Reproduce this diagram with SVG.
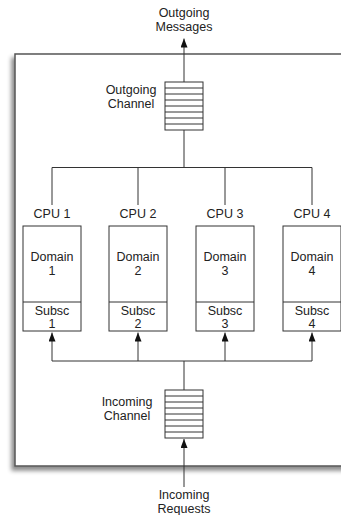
<svg xmlns="http://www.w3.org/2000/svg" width="341" height="515" viewBox="0 0 341 515">
<style>
text{font-family:"Liberation Sans",Arial,sans-serif;font-size:12.5px;fill:#222;text-anchor:middle}
.box{fill:#fff;stroke:#333;stroke-width:1}
.ln{fill:none;stroke:#333;stroke-width:1}
.ch{fill:#fff;stroke:#333;stroke-width:1}
</style>
<defs>
<filter id="sh" x="-10%" y="-10%" width="120%" height="120%">
<feDropShadow dx="-3" dy="4" stdDeviation="2" flood-color="#000" flood-opacity="0.45"/>
</filter>
<marker id="ah" viewBox="0 0 9 7" refX="9" refY="3.5" markerWidth="9" markerHeight="7" orient="auto" markerUnits="userSpaceOnUse">
<path d="M0,0 L9,3.5 L0,7 z" fill="#111"/>
</marker>
</defs>
<g id="system">
<rect x="15" y="54" width="345" height="412" fill="#fff" stroke="#555" stroke-width="1.5" filter="url(#sh)"/>
</g>
<g id="outgoing-messages">
<text x="184" y="17">Outgoing</text>
<text x="184" y="31">Messages</text>
</g>
<g id="outgoing-channel">
<rect class="ch" x="165" y="82" width="38" height="48"/>
<path class="ln" d="M165,88H203M165,94H203M165,100H203M165,106H203M165,112H203M165,118H203M165,124H203"/>
<text x="131" y="94">Outgoing</text>
<text x="131" y="108">Channel</text>
</g>
<g id="cpu1">
<text x="52" y="218">CPU 1</text>
<rect class="box" x="23" y="226" width="58" height="105"/>
<line class="ln" x1="23" y1="302" x2="81" y2="302"/>
<text x="52" y="261">Domain</text>
<text x="52" y="275">1</text>
<text x="52" y="315">Subsc</text>
<text x="52" y="328">1</text>
</g>
<g id="cpu2">
<text x="138" y="218">CPU 2</text>
<rect class="box" x="109" y="226" width="58" height="105"/>
<line class="ln" x1="109" y1="302" x2="167" y2="302"/>
<text x="138" y="261">Domain</text>
<text x="138" y="275">2</text>
<text x="138" y="315">Subsc</text>
<text x="138" y="328">2</text>
</g>
<g id="cpu3">
<text x="225" y="218">CPU 3</text>
<rect class="box" x="196" y="226" width="58" height="105"/>
<line class="ln" x1="196" y1="302" x2="254" y2="302"/>
<text x="225" y="261">Domain</text>
<text x="225" y="275">3</text>
<text x="225" y="315">Subsc</text>
<text x="225" y="328">3</text>
</g>
<g id="cpu4">
<text x="312" y="218">CPU 4</text>
<rect class="box" x="283" y="226" width="58" height="105"/>
<line class="ln" x1="283" y1="302" x2="341" y2="302"/>
<text x="312" y="261">Domain</text>
<text x="312" y="275">4</text>
<text x="312" y="315">Subsc</text>
<text x="312" y="328">4</text>
</g>
<g id="incoming-channel">
<rect class="ch" x="165" y="390" width="38" height="48"/>
<path class="ln" d="M165,396H203M165,402H203M165,408H203M165,414H203M165,420H203M165,426H203M165,432H203"/>
<text x="127" y="406">Incoming</text>
<text x="127" y="420">Channel</text>
</g>
<g id="incoming-requests">
<text x="184" y="499">Incoming</text>
<text x="184" y="513">Requests</text>
</g>
<g id="connectors">
<line class="ln" x1="184" y1="82" x2="184" y2="38.5" marker-end="url(#ah)"/>
<path class="ln" d="M184,130V167.5M52,205V167.5H312V205M138,167.5V205M225,167.5V205"/>
<path class="ln" d="M184,390V361M52,361H312"/>
<line class="ln" x1="52" y1="361" x2="52" y2="332.5" marker-end="url(#ah)"/>
<line class="ln" x1="138" y1="361" x2="138" y2="332.5" marker-end="url(#ah)"/>
<line class="ln" x1="225" y1="361" x2="225" y2="332.5" marker-end="url(#ah)"/>
<line class="ln" x1="312" y1="361" x2="312" y2="332.5" marker-end="url(#ah)"/>
<line class="ln" x1="184" y1="487" x2="184" y2="439" marker-end="url(#ah)"/>
</g>
</svg>
